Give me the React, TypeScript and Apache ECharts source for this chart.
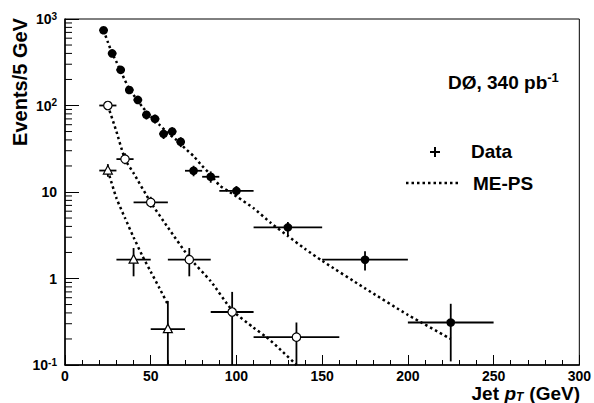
import React, { useEffect, useRef } from 'react';
import * as echarts from 'echarts';

const FONT = '"Liberation Sans", Arial, Helvetica, sans-serif';

// Axis ticks
const xMin = 0;
const xMax = 300;
const xStep = 50;
const yMin = 0.1;
const yMax = 1000;
const yMinorTicks = [
  0.2, 0.3, 0.4, 0.5, 0.6, 0.7, 0.8, 0.9,
  2, 3, 4, 5, 6, 7, 8, 9,
  20, 30, 40, 50, 60, 70, 80, 90,
  200, 300, 400, 500, 600, 700, 800, 900,
];

// Data: filled circles
const dataX = [22.5, 27.5, 32.5, 37.5, 42.5, 47.5, 52.5, 57.5, 62.5, 67.5, 75, 85, 100, 130, 175, 225];
const dataXLo = [20, 25, 30, 35, 40, 45, 50, 55, 60, 65, 70, 80, 90, 110, 150, 200];
const dataXHi = [25, 30, 35, 40, 45, 50, 55, 60, 65, 70, 80, 90, 110, 150, 200, 250];
const dataY = [740, 400, 258, 151, 116, 78, 70, 47, 50, 38, 17.6, 15, 10.3, 3.9, 1.65, 0.31];
const dataYLo = [710, 378, 240, 138, 105, 69, 62, 41, 44, 33, 15.2, 12.8, 9.0, 3.1, 1.24, 0.11];
const dataYHi = [770, 422, 276, 164, 127, 87, 78, 53, 56, 43, 20.1, 17.3, 11.7, 4.5, 2.06, 0.51];

// Data: open circles
const openX = [25, 35, 50, 72.5, 97.5, 135];
const openXLo = [20, 30, 40, 60, 85, 110];
const openXHi = [30, 40, 60, 85, 110, 160];
const openY = [100, 24, 7.6, 1.65, 0.41, 0.21];
const openYLo = [91, 21, 6.6, 1.06, 0.05, 0.05];
const openYHi = [110, 28, 8.8, 2.25, 0.7, 0.31];

// Data: open triangles
const triX = [25, 40, 60];
const triXLo = [20, 30, 50];
const triXHi = [30, 50, 70];
const triY = [17.7, 1.65, 0.26];
const triYLo = [15, 1.06, 0.05];
const triYHi = [21, 2.25, 0.55];

// ME-PS curves
const meps1X = [22.5, 25, 27.5, 30, 32.5, 35, 37.5, 40, 42.5, 45, 50, 55, 60, 65, 70, 75, 80, 85, 90, 95, 100, 110, 120, 130, 140, 150, 175, 200, 225];
const meps1Y = [740, 540, 400, 320, 250, 195, 155, 132, 114, 97, 75, 60, 48, 40, 32, 26, 20, 15.8, 12, 10.3, 8.9, 6.5, 4.4, 3.1, 2.2, 1.6, 0.77, 0.38, 0.2];
const meps2X = [25, 30, 35, 40, 50, 60, 73, 85, 97.5, 110, 117.5, 125, 135];
const meps2Y = [100, 50, 24, 16.5, 7.6, 3.9, 1.7, 0.93, 0.43, 0.27, 0.21, 0.155, 0.1];
const meps3X = [25, 30, 35, 40, 45, 50, 55, 60];
const meps3Y = [17.7, 8.5, 5.0, 3.0, 1.85, 1.2, 0.78, 0.5];

const zip = (xs: number[], ys: number[]) => xs.map((x, i) => [x, ys[i]]);
const pts = (xs: number[], ys: number[], xlo: number[], xhi: number[], ylo: number[], yhi: number[]) =>
  xs.map((x, i) => [x, ys[i], xlo[i], xhi[i], ylo[i], yhi[i]]);

const errRender = (kind: string) => (params: any, api: any) => {
  const x = api.value(0);
  const y = api.value(1);
  const p = api.coord([x, y]);
  const pl = api.coord([api.value(2), y]);
  const pr = api.coord([api.value(3), y]);
  const pb = api.coord([x, api.value(4)]);
  const pt = api.coord([x, api.value(5)]);
  const ls = { stroke: '#000', lineWidth: 1.8 };
  const children: any[] = [
    { type: 'line', shape: { x1: pl[0], y1: p[1], x2: pr[0], y2: p[1] }, style: ls },
    { type: 'line', shape: { x1: p[0], y1: pt[1], x2: p[0], y2: pb[1] }, style: ls },
  ];
  if (kind === 'filled') {
    children.push({ type: 'circle', shape: { cx: p[0], cy: p[1], r: 4.3 }, style: { fill: '#000' } });
  } else if (kind === 'open') {
    children.push({ type: 'circle', shape: { cx: p[0], cy: p[1], r: 4.2 }, style: { fill: '#fff', stroke: '#000', lineWidth: 1.2 } });
  } else {
    children.push({
      type: 'polygon',
      shape: { points: [[p[0], p[1] - 5], [p[0] - 4.5, p[1] + 3.5], [p[0] + 4.5, p[1] + 3.5]] },
      style: { fill: '#fff', stroke: '#000', lineWidth: 1.2 },
    });
  }
  return { type: 'group', children };
};

const dotted = { color: '#000', width: 2.5, type: [2.5, 3] as any, cap: 'butt' as any };

export default function App() {
  const ref = useRef<HTMLDivElement>(null);
  useEffect(() => {
    const chart = echarts.init(ref.current!, null, { renderer: 'svg' });
    const supLabel = (v: number) => {
      const e = Math.round(Math.log10(v));
      if (e === 0) return '{b|1}';
      if (e === 1) return '{b|10}';
      return '{b|10}{s|' + e + '}';
    };
    chart.setOption({
      animation: false,
      backgroundColor: '#fff',
      grid: {
        left: 65, right: 14, top: 19, bottom: 38,
        show: true, borderColor: '#000', borderWidth: 1, backgroundColor: 'transparent',
      },
      xAxis: {
        type: 'value', min: xMin, max: xMax, interval: xStep,
        axisLine: { show: true, lineStyle: { color: '#000', width: 1.5 } },
        axisTick: { show: true, inside: true, length: 10, lineStyle: { color: '#000', width: 1 } },
        minorTick: { show: true, splitNumber: 5, length: 5, lineStyle: { color: '#000', width: 1 } },
        splitLine: { show: false },
        axisLabel: { color: '#000', fontFamily: FONT, fontWeight: 'bold', fontSize: 14, lineHeight: 14, margin: 4 },
      },
      yAxis: {
        type: 'log', logBase: 10, min: yMin, max: yMax,
        axisLine: { show: true, lineStyle: { color: '#000', width: 1.5 } },
        axisTick: { show: true, inside: true, length: 14, lineStyle: { color: '#000', width: 1 } },
        splitLine: { show: false },
        axisLabel: {
          margin: 8,
          formatter: supLabel,
          rich: {
            b: { color: '#000', fontFamily: FONT, fontWeight: 'bold', fontSize: 14, lineHeight: 16 },
            s: { color: '#000', fontFamily: FONT, fontWeight: 'bold', fontSize: 10, verticalAlign: 'top', lineHeight: 16 },
          },
        },
      },
      series: [
        {
          type: 'custom', silent: true, z: 1,
          renderItem: (params: any, api: any) => {
            const p = api.coord([api.value(0), api.value(1)]);
            return { type: 'line', shape: { x1: p[0], y1: p[1], x2: p[0] + 7, y2: p[1] }, style: { stroke: '#000', lineWidth: 1 } };
          },
          data: yMinorTicks.map((v) => [0, v]),
        },
        { type: 'line', silent: true, z: 2, symbol: 'none', smooth: 0.2, lineStyle: dotted, data: zip(meps1X, meps1Y) },
        { type: 'line', silent: true, z: 2, symbol: 'none', smooth: 0.2, lineStyle: dotted, data: zip(meps2X, meps2Y) },
        { type: 'line', silent: true, z: 2, symbol: 'none', smooth: 0.2, lineStyle: dotted, data: zip(meps3X, meps3Y) },
        { type: 'custom', silent: true, z: 3, clip: true, renderItem: errRender('filled'), data: pts(dataX, dataY, dataXLo, dataXHi, dataYLo, dataYHi) },
        { type: 'custom', silent: true, z: 3, clip: true, renderItem: errRender('open'), data: pts(openX, openY, openXLo, openXHi, openYLo, openYHi) },
        { type: 'custom', silent: true, z: 3, clip: true, renderItem: errRender('tri'), data: pts(triX, triY, triXLo, triXHi, triYLo, triYHi) },
      ],
      graphic: [
        {
          type: 'text', x: 20, y: 82, rotation: Math.PI / 2,
          style: { text: 'Events/5 GeV', fill: '#000', font: 'bold 20px ' + FONT, textAlign: 'center', textVerticalAlign: 'middle' },
        },
        // x-axis title: "Jet p_T (GeV)"
        { type: 'text', x: 499, y: 393.5, style: { text: 'Jet', fill: '#000', font: 'bold 19px ' + FONT, textAlign: 'right', textVerticalAlign: 'middle' } },
        { type: 'text', x: 504.5, y: 393.5, style: { text: 'p', fill: '#000', font: 'italic bold 19px ' + FONT, textAlign: 'left', textVerticalAlign: 'middle' } },
        { type: 'text', x: 516, y: 397, style: { text: 'T', fill: '#000', font: 'italic bold 12px ' + FONT, textAlign: 'left', textVerticalAlign: 'middle' } },
        { type: 'text', x: 580, y: 393.5, style: { text: '(GeV)', fill: '#000', font: 'bold 19px ' + FONT, textAlign: 'right', textVerticalAlign: 'middle' } },
        {
          type: 'text', x: 448, y: 82,
          style: {
            text: '{a|DØ, 340 pb}{s|-1}', textAlign: 'left', textVerticalAlign: 'middle',
            rich: {
              a: { fill: '#000', fontFamily: FONT, fontWeight: 'bold', fontSize: 19, lineHeight: 22 },
              s: { fill: '#000', fontFamily: FONT, fontWeight: 'bold', fontSize: 13, verticalAlign: 'top', lineHeight: 22 },
            },
          },
        },
        { type: 'line', shape: { x1: 430, y1: 152, x2: 440, y2: 152 }, style: { stroke: '#000', lineWidth: 2 } },
        { type: 'line', shape: { x1: 435, y1: 147, x2: 435, y2: 157 }, style: { stroke: '#000', lineWidth: 2 } },
        { type: 'text', x: 471, y: 151, style: { text: 'Data', fill: '#000', font: 'bold 19px ' + FONT, textVerticalAlign: 'middle' } },
        { type: 'line', shape: { x1: 406, y1: 183, x2: 460, y2: 183 }, style: { stroke: '#000', lineWidth: 2.5, lineDash: [2.5, 3] } },
        { type: 'text', x: 473, y: 183, style: { text: 'ME-PS', fill: '#000', font: 'bold 19px ' + FONT, textVerticalAlign: 'middle' } },
      ],
    });
    return () => chart.dispose();
  }, []);
  return <div ref={ref} style={{ width: 594, height: 403, position: 'absolute', left: 0, top: 0 }} />;
}
